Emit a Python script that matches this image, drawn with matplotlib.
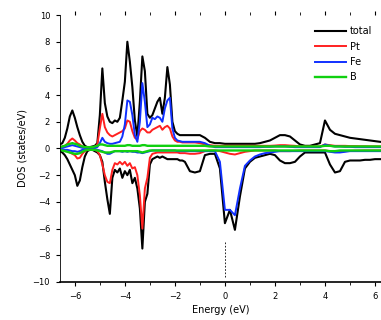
import numpy as np
import matplotlib
matplotlib.use('Agg')
import matplotlib.pyplot as plt
from matplotlib.ticker import MultipleLocator

# Energy grid (eV): finer in the valence-band region, coarser above -1.5 eV
energy = np.concatenate([np.arange(-6.6, -1.55, 0.1), np.arange(-1.4, 6.21, 0.2)])

total_up = [
    0.3, 0.4, 0.8, 1.5, 2.4, 2.85, 2.3, 1.6, 1.0, 0.5,
    0.2, 0.1, 0.1, 0.15, 0.2, 0.4, 2.5, 6.0, 3.4, 2.4,
    2.0, 1.9, 2.1, 2.0, 2.3, 3.6, 5.0, 8.0, 6.5, 4.6,
    2.1, 0.9, 3.5, 6.9, 5.8, 2.6, 2.3, 2.5, 3.0, 3.5,
    3.8, 2.6, 3.8, 6.1, 4.8, 2.0, 1.3, 1.1, 1.0, 1.0,
    1.0,
    1.0, 1.0, 1.0, 0.8, 0.5, 0.4, 0.4, 0.35, 0.35, 0.35,
    0.35, 0.35, 0.35, 0.35, 0.4, 0.5, 0.6, 0.8, 1.0, 1.0,
    0.9, 0.6, 0.3, 0.2, 0.2, 0.3, 0.4, 2.1, 1.4, 1.1,
    1.0, 0.9, 0.8, 0.75, 0.7, 0.65, 0.6, 0.55, 0.5,
]
total_dn = [
    -0.2, -0.3, -0.5, -0.8, -1.2, -1.6, -2.0, -2.8, -2.4, -1.4,
    -0.6, -0.2, -0.1, -0.1, -0.2, -0.3, -0.5, -1.0, -2.5, -3.8,
    -4.9, -2.2, -1.6, -1.8, -1.5, -2.2, -1.7, -2.0, -1.6, -2.6,
    -2.2, -3.0, -4.5, -7.5, -4.0, -3.4, -1.2, -0.8, -0.7, -0.6,
    -0.7, -0.6, -0.7, -0.8, -0.8, -0.8, -0.8, -0.8, -0.9, -0.9,
    -1.0,
    -1.7, -1.8, -1.7, -0.5, -0.4, -0.4, -1.5, -5.6, -4.6, -6.1,
    -3.6, -1.5, -1.0, -0.7, -0.6, -0.5, -0.4, -0.5, -0.9, -1.1,
    -1.1, -1.0, -0.6, -0.3, -0.3, -0.3, -0.3, -0.3, -1.2, -1.8,
    -1.7, -1.0, -0.9, -0.9, -0.9, -0.85, -0.85, -0.8, -0.8,
]
pt_up = [
    0.1, 0.15, 0.2, 0.35, 0.6, 0.75, 0.6, 0.4, 0.3, 0.15,
    0.1, 0.05, 0.05, 0.05, 0.1, 0.3, 1.5, 2.6, 1.6, 1.2,
    1.0, 0.9, 1.0, 1.1, 1.2, 1.3, 1.5, 2.1, 2.0, 1.3,
    0.8, 0.7, 1.3, 1.5, 1.4, 1.2, 1.2, 1.4, 1.5, 1.6,
    1.7, 1.4, 1.6, 1.7, 1.5, 0.9, 0.6, 0.5, 0.5, 0.45,
    0.45,
    0.45, 0.45, 0.4, 0.3, 0.25, 0.2, 0.2, 0.2, 0.2, 0.2,
    0.2, 0.2, 0.2, 0.2, 0.2, 0.2, 0.2, 0.22, 0.25, 0.25,
    0.22, 0.2, 0.15, 0.15, 0.15, 0.15, 0.15, 0.3, 0.25, 0.2,
    0.2, 0.2, 0.18, 0.18, 0.17, 0.17, 0.16, 0.16, 0.15,
]
pt_dn = [
    -0.05, -0.1, -0.15, -0.2, -0.3, -0.4, -0.5, -0.75, -0.7, -0.4,
    -0.2, -0.1, -0.05, -0.05, -0.1, -0.2, -0.5, -1.2, -2.0, -2.5,
    -2.6, -1.6, -1.1, -1.2, -1.0, -1.2, -1.0, -1.3, -1.1, -1.5,
    -1.4, -2.0, -3.5, -6.0, -3.0, -2.2, -0.7, -0.4, -0.35, -0.3,
    -0.3, -0.3, -0.3, -0.3, -0.3, -0.3, -0.3, -0.3, -0.35, -0.35,
    -0.35,
    -0.4, -0.4, -0.35, -0.2, -0.15, -0.15, -0.2, -0.3, -0.4, -0.45,
    -0.35, -0.25, -0.2, -0.15, -0.15, -0.15, -0.15, -0.15, -0.2, -0.2,
    -0.2, -0.18, -0.15, -0.15, -0.15, -0.15, -0.15, -0.15, -0.2, -0.25,
    -0.25, -0.2, -0.18, -0.17, -0.16, -0.15, -0.15, -0.15, -0.15,
]
fe_up = [
    0.05, 0.05, 0.1, 0.15, 0.2, 0.25, 0.2, 0.15, 0.1, 0.05,
    0.05, 0.05, 0.05, 0.05, 0.05, 0.1, 0.4, 0.8, 0.5, 0.4,
    0.35, 0.35, 0.4, 0.45, 0.5, 0.9, 1.8, 3.6, 3.5, 2.5,
    1.0, 0.5, 2.0, 4.9, 3.5, 1.6, 1.8, 2.3, 2.2, 2.4,
    2.3, 2.0, 3.0, 3.6, 3.8, 1.5, 0.8, 0.6, 0.55, 0.5,
    0.5,
    0.5, 0.5, 0.5, 0.4, 0.2, 0.1, 0.1, 0.1, 0.1, 0.1,
    0.1, 0.1, 0.1, 0.1, 0.1, 0.12, 0.12, 0.15, 0.15, 0.15,
    0.12, 0.1, 0.1, 0.1, 0.1, 0.1, 0.1, 0.3, 0.2, 0.15,
    0.15, 0.12, 0.12, 0.1, 0.1, 0.1, 0.1, 0.1, 0.1,
]
fe_dn = [
    -0.05, -0.05, -0.1, -0.1, -0.15, -0.2, -0.2, -0.25, -0.2, -0.1,
    -0.05, -0.05, -0.05, -0.05, -0.05, -0.1, -0.15, -0.2, -0.3, -0.4,
    -0.4, -0.3, -0.2, -0.2, -0.2, -0.25, -0.2, -0.25, -0.2, -0.25,
    -0.25, -0.3, -0.3, -0.35, -0.3, -0.25, -0.2, -0.15, -0.15, -0.15,
    -0.15, -0.15, -0.15, -0.15, -0.15, -0.15, -0.15, -0.2, -0.2, -0.2,
    -0.2,
    -0.2, -0.2, -0.2, -0.2, -0.2, -0.2, -1.0, -4.6, -4.6, -5.0,
    -3.0, -1.3, -0.9, -0.6, -0.45, -0.35, -0.3, -0.25, -0.2, -0.2,
    -0.2, -0.2, -0.2, -0.2, -0.2, -0.2, -0.2, -0.2, -0.25, -0.3,
    -0.3, -0.25, -0.2, -0.2, -0.2, -0.2, -0.2, -0.2, -0.2,
]
b_up = [
    0.1, 0.15, 0.2, 0.3, 0.35, 0.4, 0.35, 0.3, 0.2, 0.15,
    0.1, 0.1, 0.1, 0.1, 0.15, 0.2, 0.3, 0.3, 0.25, 0.2,
    0.2, 0.2, 0.2, 0.2, 0.2, 0.2, 0.2, 0.25, 0.25, 0.2,
    0.2, 0.2, 0.2, 0.25, 0.25, 0.2, 0.2, 0.2, 0.2, 0.2,
    0.2, 0.2, 0.2, 0.2, 0.2, 0.2, 0.2, 0.2, 0.2, 0.2,
    0.2,
    0.2, 0.2, 0.2, 0.2, 0.15, 0.15, 0.15, 0.15, 0.15, 0.15,
    0.15, 0.15, 0.15, 0.15, 0.15, 0.15, 0.15, 0.15, 0.15, 0.15,
    0.15, 0.15, 0.15, 0.15, 0.15, 0.15, 0.15, 0.2, 0.2, 0.15,
    0.15, 0.15, 0.15, 0.15, 0.15, 0.15, 0.15, 0.15, 0.15,
]
b_dn = [
    -0.1, -0.15, -0.2, -0.25, -0.3, -0.35, -0.4, -0.4, -0.35, -0.25,
    -0.15, -0.1, -0.1, -0.1, -0.1, -0.15, -0.2, -0.25, -0.3, -0.3,
    -0.3, -0.25, -0.2, -0.2, -0.2, -0.2, -0.2, -0.2, -0.2, -0.2,
    -0.2, -0.2, -0.25, -0.3, -0.25, -0.2, -0.15, -0.15, -0.15, -0.15,
    -0.15, -0.15, -0.15, -0.15, -0.15, -0.15, -0.15, -0.15, -0.15, -0.15,
    -0.15,
    -0.15, -0.15, -0.15, -0.15, -0.15, -0.15, -0.15, -0.15, -0.15, -0.15,
    -0.15, -0.15, -0.15, -0.15, -0.15, -0.15, -0.15, -0.15, -0.15, -0.15,
    -0.15, -0.15, -0.15, -0.15, -0.15, -0.15, -0.15, -0.15, -0.2, -0.2,
    -0.15, -0.15, -0.15, -0.15, -0.15, -0.15, -0.15, -0.15, -0.15,
]

series = [
    ('total', total_up, total_dn, 'black', 1.5),
    ('Pt', pt_up, pt_dn, '#ff2020', 1.4),
    ('Fe', fe_up, fe_dn, '#1030ff', 1.4),
    ('B', b_up, b_dn, '#10d010', 1.7),
]

plt.rcParams.update({
    'font.family': 'DejaVu Sans',
    'font.size': 6,
})

fig = plt.figure(figsize=(3.81, 3.2), dpi=100)
ax = fig.add_axes([0.157, 0.119, 0.843, 0.834])

for name, up, dn, color, lw in series:
    ax.plot(energy, up, color=color, linewidth=lw, label=name)
    ax.plot(energy, dn, color=color, linewidth=lw)

# Fermi level marker
ax.vlines(0.0, -9.6, -6.9, colors='black', linestyles=(0, (2, 2)), linewidth=0.6)

ax.set_xlim(-6.6, 6.24)
ax.set_ylim(-10, 10)
ax.xaxis.set_major_locator(MultipleLocator(2))
ax.yaxis.set_major_locator(MultipleLocator(2))
ax.xaxis.set_minor_locator(MultipleLocator(1))
ax.tick_params(axis='both', which='major', direction='out', length=3,
               width=0.8, labelsize=6, pad=4)
ax.tick_params(axis='x', which='minor', direction='out', length=2, width=0.6)
ax.tick_params(axis='x', which='both', top=True)

for side in ['top', 'right']:
    ax.spines[side].set_visible(False)
ax.spines['left'].set_linewidth(0.6)
ax.spines['bottom'].set_linewidth(1.2)

ax.set_xlabel('Energy (eV)', fontsize=7, labelpad=3)
ax.set_ylabel('DOS (states/eV)', fontsize=7, labelpad=4)

ax.legend(loc='upper right', bbox_to_anchor=(0.99, 0.98), frameon=False,
          fontsize=7, handlelength=3.2, handletextpad=0.4, labelspacing=0.55,
          borderaxespad=0.2)

fig.savefig('out.png', dpi=100)
